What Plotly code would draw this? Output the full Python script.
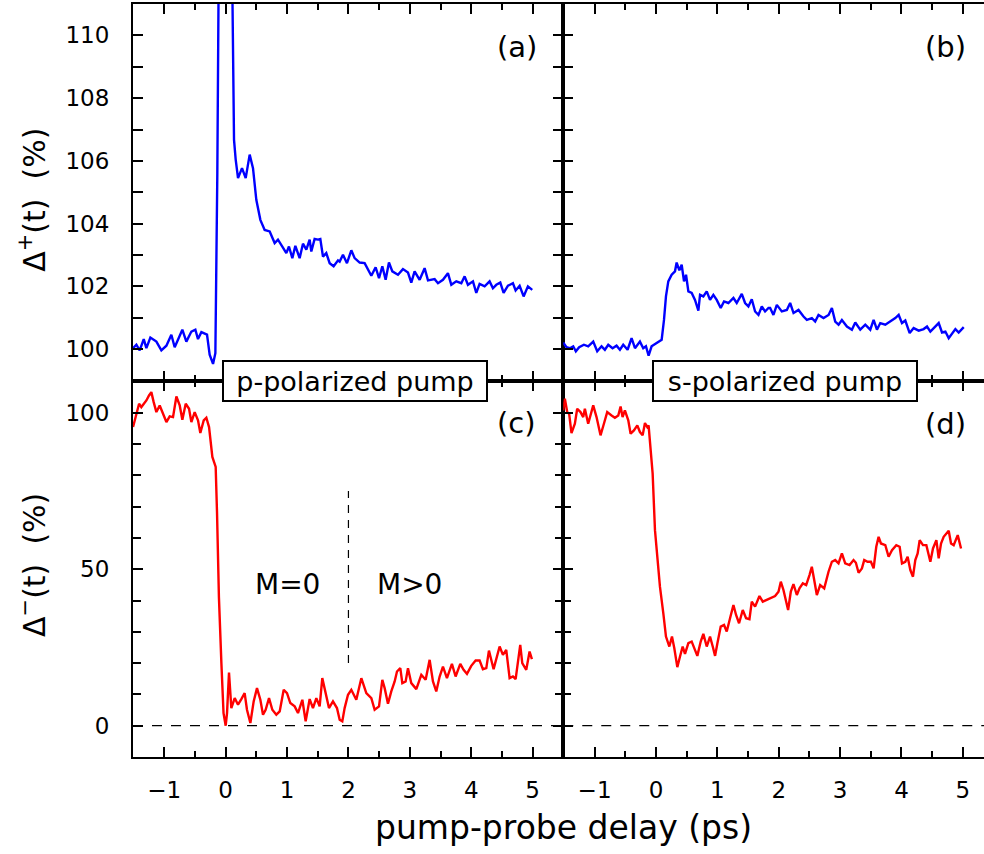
import plotly.graph_objects as go
from plotly.subplots import make_subplots

FONT = "DejaVu Sans"

# ---------------- data ----------------
# (a) p-polarized pump, Delta+ (%)
p_plus_t = [-1.509, -1.455, -1.401, -1.335, -1.292, -1.227, -1.129, -1.048, -0.966, -0.885,
            -0.831, -0.776, -0.706, -0.641, -0.559, -0.494, -0.451, -0.396, -0.304, -0.261,
            -0.206, -0.168, -0.152, -0.136, -0.10, -0.05, 0.0, 0.05, 0.10,
            0.136, 0.163, 0.201, 0.266, 0.326, 0.391, 0.445, 0.499, 0.565, 0.635,
            0.717, 0.798, 0.852, 0.923, 0.988, 1.031, 1.086, 1.135, 1.205, 1.259,
            1.314, 1.368, 1.395, 1.449, 1.504, 1.542, 1.585, 1.639, 1.694, 1.759, 1.830,
            1.857, 1.911, 1.976, 2.047, 2.101, 2.183, 2.264, 2.318, 2.373, 2.443,
            2.498, 2.552, 2.606, 2.660, 2.715, 2.807, 2.888, 2.970, 3.024, 3.078,
            3.160, 3.241, 3.296, 3.404, 3.459, 3.540, 3.621, 3.676, 3.757, 3.839,
            3.893, 3.947, 4.029, 4.083, 4.137, 4.219, 4.300, 4.354, 4.409, 4.474,
            4.528, 4.599, 4.680, 4.724, 4.789, 4.854, 4.924, 4.995]
p_plus_v = [100.03, 100.14, 99.96, 100.32, 100.03, 100.37, 100.24, 99.96, 100.11, 100.46,
            100.06, 100.30, 100.62, 100.24, 100.56, 100.62, 100.32, 100.54, 100.46, 99.82,
            99.53, 99.87, 102.42, 105.61, 116.0, 124.0, 127.0, 122.0, 113.0,
            106.67, 106.04, 105.45, 105.77, 105.45, 106.20, 105.77, 104.76, 104.12, 103.80,
            103.75, 103.38, 103.49, 103.27, 103.06, 103.27, 102.90, 103.29, 102.90, 103.36,
            103.17, 103.49, 103.11, 103.51, 103.49, 103.51, 102.95, 103.06, 102.74, 102.64, 102.83,
            102.79, 103.01, 102.74, 103.15, 102.90, 102.76, 102.74, 102.55, 102.34, 102.61,
            102.26, 102.64, 102.21, 102.76, 102.48, 102.37, 102.55, 102.44, 102.12, 102.48,
            102.21, 102.58, 102.19, 102.23, 102.10, 102.21, 102.42, 102.05, 102.16, 102.10,
            102.32, 102.05, 102.16, 101.79, 102.08, 102.00, 102.16, 101.94, 102.05, 102.12,
            101.79, 102.02, 102.10, 101.87, 102.02, 101.68, 102.00, 101.89]

# (b) s-polarized pump, Delta+ (%)
s_plus_t = [-1.512, -1.457, -1.403, -1.348, -1.305, -1.251, -1.174, -1.104, -1.022, -0.957,
            -0.886, -0.832, -0.777, -0.707, -0.642, -0.587, -0.533, -0.462, -0.397, -0.342,
            -0.261, -0.207, -0.163, -0.120, -0.071, 0.000, 0.054, 0.093, 0.131, 0.163,
            0.201, 0.256, 0.310, 0.337, 0.381, 0.419, 0.457, 0.490, 0.528, 0.582,
            0.636, 0.691, 0.718, 0.772, 0.827, 0.881, 0.935, 0.990, 1.055, 1.109,
            1.180, 1.262, 1.316, 1.398, 1.452, 1.506, 1.561, 1.615, 1.670, 1.724,
            1.778, 1.833,
            1.860, 1.914, 1.969, 2.050, 2.132, 2.186, 2.241, 2.322, 2.404, 2.458,
            2.540, 2.594, 2.648, 2.730, 2.812, 2.866, 2.920, 2.975, 3.029, 3.111,
            3.192, 3.247, 3.328, 3.410, 3.491, 3.546, 3.600, 3.654, 3.736, 3.818,
            3.899, 3.954, 4.008, 4.062, 4.133, 4.198, 4.280, 4.361, 4.416, 4.470,
            4.552, 4.606, 4.660, 4.715, 4.769, 4.824, 4.878, 4.932, 5.014]
s_plus_v = [100.21, 100.06, 100.03, 100.09, 99.93, 100.06, 100.14, 100.09, 100.24, 99.93,
            100.09, 99.98, 100.14, 100.03, 100.11, 99.98, 100.14, 99.98, 100.35, 100.03,
            100.24, 100.03, 100.09, 99.79, 100.09, 100.19, 100.24, 100.30, 100.93, 101.68,
            102.16, 102.37, 102.48, 102.76, 102.51, 102.69, 102.16, 102.37, 101.84, 101.79,
            101.57, 101.23, 101.73, 101.68, 101.84, 101.57, 101.73, 101.57, 101.31, 101.52,
            101.47, 101.63, 101.47, 101.76, 101.47, 101.36, 101.59, 101.20, 101.09, 101.36,
            101.20, 101.31,
            101.31, 101.09, 101.41, 101.20, 101.25, 101.47, 101.15, 101.25, 101.04, 100.93,
            100.99, 100.88, 101.09, 100.99, 101.09, 101.31, 100.88, 100.78, 100.93, 100.72,
            100.62, 100.85, 100.62, 100.78, 100.62, 100.93, 100.62, 100.83, 100.78, 100.88,
            100.99, 101.09, 100.83, 100.91, 100.51, 100.67, 100.59, 100.64, 100.72, 100.56,
            100.72, 100.83, 100.53, 100.56, 100.35, 100.51, 100.64, 100.53, 100.70]

# (c) p-polarized pump, Delta- (%)
p_minus_t = [-1.509, -1.455, -1.411, -1.374, -1.335, -1.292, -1.249, -1.211, -1.173, -1.129,
             -1.075, -1.021, -0.966, -0.912, -0.858, -0.803, -0.749, -0.706, -0.651, -0.597,
             -0.559, -0.505, -0.451, -0.413, -0.358, -0.315, -0.271, -0.217, -0.163, -0.141,
             -0.110, -0.070, -0.035, 0.000, 0.022, 0.054, 0.092, 0.147, 0.201, 0.255,
             0.309, 0.347, 0.402, 0.456, 0.510, 0.565, 0.608, 0.651, 0.706, 0.760,
             0.825, 0.880, 0.945, 0.999, 1.053, 1.124, 1.178, 1.249, 1.303, 1.368,
             1.422, 1.477, 1.531, 1.574, 1.629, 1.683, 1.748, 1.813,
             1.857, 1.900, 1.938, 1.993, 2.047, 2.128, 2.210, 2.291, 2.373, 2.427,
             2.498, 2.552, 2.590, 2.644, 2.698, 2.753, 2.791, 2.845, 2.878, 2.932,
             2.970, 3.024, 3.106, 3.187, 3.258, 3.323, 3.377, 3.431, 3.486, 3.540,
             3.605, 3.686, 3.746, 3.822, 3.876, 3.931, 4.001, 4.072, 4.137, 4.191,
             4.246, 4.289, 4.365, 4.419, 4.463, 4.517, 4.571, 4.626, 4.680, 4.724,
             4.761, 4.799, 4.832, 4.897, 4.951, 4.989]
p_minus_v = [95.42, 99.67, 102.86, 101.80, 102.86, 103.92, 105.52, 106.58, 103.39, 100.21,
             102.33, 99.67, 97.02, 98.82, 98.61, 105.20, 102.33, 97.76, 102.86, 101.27,
             97.02, 100.21, 97.55, 93.51, 97.55, 98.40, 95.42, 85.86, 82.67, 68.0,
             41.0, 20.0, 4.0, 0.0, 4.04, 17.00, 5.64, 8.83, 6.70, 8.51,
             10.42, 5.10, 0.85, 7.76, 12.01, 8.29, 3.51, 5.10, 8.83, 5.10,
             3.51, 4.57, 11.48, 10.42, 7.23, 6.17, 4.04, 8.29, 1.38, 8.51,
             5.64, 8.83, 6.17, 15.20, 10.42, 5.64, 7.76, 5.64,
             1.91, 1.38, 5.63, 9.88, 11.47, 8.29, 15.19, 10.41, 8.82, 5.10,
             6.16, 14.66, 12.00, 7.01, 10.94, 14.13, 17.32, 18.38, 13.60, 14.13,
             18.38, 13.60, 11.69, 16.26, 14.66, 21.04, 14.13, 10.94, 15.72, 18.91,
             15.19, 19.76, 15.72, 19.76, 17.85, 16.57, 19.12, 20.82, 20.82, 18.06,
             18.38, 24.01, 18.06, 22.10, 25.29, 22.63, 24.22, 15.19, 15.72, 14.87,
             20.51, 25.82, 19.97, 17.85, 23.69, 21.25]

# (d) s-polarized pump, Delta- (%)
s_minus_t = [-1.512, -1.484, -1.446, -1.414, -1.376, -1.321, -1.283, -1.229, -1.185, -1.158,
             -1.104, -1.066, -1.022, -0.968, -0.903, -0.848, -0.794, -0.723, -0.669, -0.614,
             -0.576, -0.544, -0.506, -0.451, -0.413, -0.359, -0.304, -0.261, -0.217, -0.179,
             -0.141, -0.120, -0.087, -0.054, -0.016, 0.022, 0.065, 0.120, 0.163, 0.218,
             0.261, 0.299, 0.348, 0.392, 0.435, 0.473, 0.528, 0.582, 0.625, 0.674,
             0.729, 0.772, 0.827, 0.881, 0.925, 0.963, 1.001, 1.055, 1.109, 1.153,
             1.207, 1.262, 1.305, 1.354, 1.414, 1.468, 1.523, 1.561, 1.615, 1.686,
             1.740, 1.805, 1.871, 1.941, 1.996, 2.034, 2.077, 2.121, 2.153, 2.197,
             2.240, 2.295, 2.338, 2.393, 2.447, 2.501, 2.539, 2.578, 2.621, 2.675,
             2.741, 2.811, 2.866, 2.920, 2.974, 3.029, 3.083, 3.154, 3.219, 3.257,
             3.301, 3.355, 3.393, 3.448, 3.502, 3.546, 3.589, 3.627, 3.665, 3.736,
             3.790, 3.845, 3.915, 3.970, 4.008, 4.062, 4.100, 4.144, 4.187, 4.225,
             4.263, 4.296, 4.350, 4.405, 4.470, 4.513, 4.568, 4.606, 4.644, 4.687,
             4.731, 4.769, 4.807, 4.850, 4.916, 4.970]
s_minus_v = [100.74, 104.46, 100.21, 99.67, 93.51, 96.49, 101.27, 100.21, 98.61, 101.27,
             96.49, 99.14, 102.33, 98.61, 92.77, 96.49, 100.21, 99.14, 98.40, 99.14,
             102.01, 98.61, 100.74, 97.55, 93.30, 94.36, 95.96, 93.83, 92.77, 96.70,
             95.42, 95.96, 89.05, 80.55, 62.48, 53.98, 44.42, 35.92, 28.48, 25.29,
             28.48, 24.76, 18.70, 22.10, 25.29, 22.96, 26.36, 26.89, 24.76, 22.32,
             26.89, 29.33, 25.29, 28.48, 25.29, 22.32, 26.36, 31.67, 32.20, 30.08,
             34.33, 38.58, 35.39, 32.73, 36.98, 34.33, 34.01, 39.64, 38.04, 41.44,
             39.64, 40.17, 40.70, 41.44, 42.83, 46.01, 43.36, 40.17, 36.98, 42.83,
             45.27, 41.76, 43.89, 45.48, 44.95, 48.14, 50.80, 46.54, 41.76, 44.95,
             43.89, 49.20, 52.39, 52.92, 51.86, 55.05, 51.86, 51.33, 52.92, 52.07,
             48.88, 50.26, 52.92, 52.39, 52.39, 50.26, 57.17, 60.36, 58.23, 57.70,
             53.98, 56.11, 57.70, 57.17, 51.86, 52.39, 53.98, 49.73, 47.61, 52.92,
             55.05, 59.30, 57.70, 57.70, 52.39, 56.64, 59.30, 53.45, 58.23, 60.36,
             61.42, 62.27, 58.23, 57.70, 60.89, 56.64]

zero_level = 0
boundary_delay = 2.0
boundary_span = [20, 75]

panel_labels = ["(a)", "(b)", "(c)", "(d)"]
box_labels = ["p-polarized pump", "s-polarized pump"]
region_labels = ["M=0", "M>0"]
x_title = "pump-probe delay (ps)"
y_titles = ["Δ<sup>+</sup>(t)  (%)", "Δ<sup>−</sup>(t)  (%)"]

BLUE = "#0000ff"
RED = "#ff0000"

# ---------------- figure ----------------
fig = make_subplots(rows=2, cols=2, column_widths=[0.5056, 0.4944],
                    horizontal_spacing=0, vertical_spacing=0)

fig.add_trace(go.Scatter(x=p_plus_t, y=p_plus_v, mode="lines",
                         line=dict(color=BLUE, width=2.4)), row=1, col=1)
fig.add_trace(go.Scatter(x=s_plus_t, y=s_plus_v, mode="lines",
                         line=dict(color=BLUE, width=2.4)), row=1, col=2)
fig.add_trace(go.Scatter(x=p_minus_t, y=p_minus_v, mode="lines",
                         line=dict(color=RED, width=2.4)), row=2, col=1)
fig.add_trace(go.Scatter(x=s_minus_t, y=s_minus_v, mode="lines",
                         line=dict(color=RED, width=2.4)), row=2, col=2)

common = dict(showline=True, linecolor="black", linewidth=2, ticks="inside",
              ticklen=10, tickwidth=2, tickcolor="black", showgrid=False,
              zeroline=False, tickfont=dict(family=FONT, size=23, color="black"))

xminor = dict(dtick=0.5, ticks="inside", ticklen=6, tickwidth=2, tickcolor="black", showgrid=False)
x_left = dict(range=[-1.51, 5.5], tick0=0, dtick=1, minor=xminor, mirror="allticks",
              ticklabelstandoff=11, **common)
x_right = dict(range=[-1.51, 5.344], tick0=0, dtick=1, minor=xminor, mirror="allticks",
               ticklabelstandoff=11, **common)

fig.update_layout(
    xaxis=dict(x_left, showticklabels=False),
    xaxis2=dict(x_right, showticklabels=False),
    xaxis3=dict(x_left, showticklabels=True),
    xaxis4=dict(x_right, showticklabels=True),
)

ytop_minor = dict(dtick=1, ticks="inside", ticklen=10, tickwidth=2, tickcolor="black", showgrid=False)
ybot_minor = dict(dtick=10, ticks="inside", ticklen=8, tickwidth=2, tickcolor="black", showgrid=False)
fig.update_layout(
    yaxis=dict(range=[99, 111], tick0=100, dtick=2, minor=ytop_minor, mirror="allticks",
               ticklabelstandoff=17, **common),
    yaxis2=dict(range=[99, 111], tick0=100, dtick=2, minor=ytop_minor, mirror=False,
                showticklabels=False, **common),
    yaxis3=dict(range=[-10, 110.3], tick0=0, dtick=50, minor=ybot_minor, mirror="allticks",
                ticklabelstandoff=17, **common),
    yaxis4=dict(range=[-10, 110.3], tick0=0, dtick=50, minor=ybot_minor, mirror=False,
                showticklabels=False, **common),
)

# reference lines
for xr, yr in (("x3 domain", "y3"), ("x4 domain", "y4")):
    fig.add_shape(type="line", xref=xr, yref=yr, x0=0, x1=1, y0=zero_level, y1=zero_level,
                  line=dict(color="black", width=1.2, dash="10px,9px"))
fig.add_shape(type="line", xref="x3", yref="y3", x0=boundary_delay, x1=boundary_delay,
              y0=boundary_span[0], y1=boundary_span[1],
              line=dict(color="black", width=1.2, dash="8px,7px"))

ann = []
# panel letters
for lab, (px, py) in zip(panel_labels, [(0.4512, 0.9429), (0.9542, 0.9429),
                                        (0.4512, 0.4436), (0.9542, 0.4416)]):
    ann.append(dict(text=lab, x=px, y=py, xref="paper", yref="paper", showarrow=False,
                    xanchor="center", yanchor="middle",
                    font=dict(family=FONT, size=29, color="black")))
# boxed labels
for lab, px in zip(box_labels, [0.2609, 0.7656]):
    ann.append(dict(text=lab, x=px, y=0.4993, xref="paper", yref="paper", showarrow=False,
                    xanchor="center", yanchor="middle", bgcolor="white",
                    bordercolor="black", borderwidth=2, borderpad=0, width=262, height=38,
                    font=dict(family=FONT, size=27, color="black")))
# M=0 / M>0
for lab, xv in zip(region_labels, [1.0, 3.0]):
    ann.append(dict(text=lab, x=xv, y=45, xref="x3", yref="y3", showarrow=False,
                    xanchor="center", yanchor="middle",
                    font=dict(family=FONT, size=28, color="black")))
# axis titles
ann.append(dict(text=x_title, x=0.5053, y=-0.094, xref="paper", yref="paper", showarrow=False,
                xanchor="center", yanchor="middle", font=dict(family=FONT, size=33, color="black")))
for lab, py in zip(y_titles, [0.74, 0.255]):
    ann.append(dict(text=lab, x=-0.1175, y=py, xref="paper", yref="paper", showarrow=False,
                    textangle=-90, xanchor="center", yanchor="middle",
                    font=dict(family=FONT, size=30, color="black")))

fig.update_layout(
    width=984, height=854,
    margin=dict(l=133, r=0, t=4, b=97),
    paper_bgcolor="white", plot_bgcolor="white",
    showlegend=False,
    annotations=ann,
    font=dict(family=FONT, color="black"),
)

fig.write_html("out.html",
               config={"displayModeBar": False},
               post_script="document.body.style.margin='0';document.body.style.overflow='hidden';")
